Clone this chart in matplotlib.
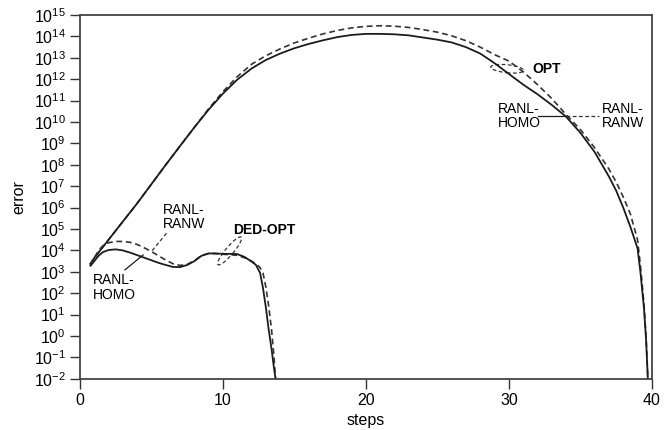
import numpy as np
import matplotlib
matplotlib.use("Agg")
from matplotlib import pyplot as plt
from matplotlib.patches import Ellipse
from matplotlib.transforms import ScaledTranslation

plt.rcParams["font.family"] = ["Liberation Sans", "DejaVu Sans"]
plt.rcParams["mathtext.fontset"] = "custom"
plt.rcParams["mathtext.rm"] = "Liberation Sans"
plt.rcParams["mathtext.it"] = "Liberation Sans:italic"
plt.rcParams["mathtext.bf"] = "Liberation Sans:bold"
plt.rcParams["axes.unicode_minus"] = False

# OPT curves (log10 of error)
opt_steps = [0.7, 1.0, 2.0, 3.0, 4.0, 5.0, 6.0, 7.0, 8.0, 9.0, 10.0, 11.0, 12.0,
             13.0, 14.0, 15.0, 16.0, 17.0, 18.0, 19.0, 20.0, 21.0, 22.0, 23.0,
             24.0, 25.0, 26.0, 27.0, 28.0, 29.0, 30.0, 31.0, 32.0, 33.0, 34.0,
             35.0, 36.0, 37.0, 37.5, 38.0, 38.5, 39.0, 39.2, 39.45, 39.6, 39.72]
opt_homo = [3.35, 3.65, 4.5, 5.35, 6.2, 7.1, 8.0, 8.88, 9.75, 10.58, 11.33,
            11.98, 12.5, 12.9, 13.2, 13.45, 13.65, 13.82, 13.97, 14.07, 14.12,
            14.12, 14.1, 14.05, 13.95, 13.85, 13.72, 13.5, 13.2, 12.75, 12.25,
            11.75, 11.3, 10.8, 10.25, 9.5, 8.6, 7.45, 6.8, 6.0, 5.1, 4.1, 3.0,
            1.3, -0.2, -2.0]
opt_ranw = [3.35, 3.65, 4.5, 5.35, 6.2, 7.1, 8.0, 8.88, 9.75, 10.62, 11.42,
            12.12, 12.7, 13.1, 13.42, 13.7, 13.92, 14.12, 14.28, 14.4, 14.47,
            14.5, 14.48, 14.42, 14.32, 14.2, 14.03, 13.8, 13.5, 13.15, 12.85,
            12.35, 11.75, 11.1, 10.35, 9.65, 8.8, 7.8, 7.2, 6.5, 5.7, 4.5, 3.3,
            1.5, -0.1, -2.0]

# DED-OPT curves
ded_steps = [0.7, 1.0, 1.3, 1.6, 2.0, 2.5, 3.0, 3.5, 4.0, 4.5, 5.0, 5.5, 6.0,
             6.5, 7.0, 7.5, 8.0, 8.5, 9.0, 9.5, 10.0, 10.5, 11.0, 11.5, 12.0,
             12.3, 12.6, 12.8, 13.0, 13.2, 13.4, 13.55, 13.68]
ded_homo = [3.25, 3.5, 3.75, 3.92, 4.02, 4.05, 4.0, 3.9, 3.78, 3.66, 3.54, 3.42,
            3.32, 3.23, 3.22, 3.32, 3.5, 3.75, 3.86, 3.86, 3.84, 3.84, 3.83,
            3.7, 3.48, 3.33, 2.95, 2.25, 1.35, 0.3, -0.6, -1.4, -2.0]
ded_ranw = [3.3, 3.65, 4.0, 4.22, 4.36, 4.42, 4.42, 4.38, 4.28, 4.12, 3.95,
            3.75, 3.55, 3.38, 3.3, 3.35, 3.52, 3.76, 3.86, 3.85, 3.82, 3.8,
            3.77, 3.66, 3.5, 3.38, 3.2, 2.95, 2.3, 1.4, 0.3, -0.8, -2.0]

x_ticks = [0, 10, 20, 30, 40]
y_decades = list(range(-2, 16))

fig = plt.figure(figsize=(6.72, 4.30), dpi=100)
ax = fig.add_axes([0.119, 0.119, 0.851, 0.846])

solid = dict(color="#1c1c1c", lw=1.3, solid_capstyle="butt")
dashed = dict(color="#333333", lw=1.2, ls=(0, (3.5, 2.2)))

ax.plot(opt_steps, 10.0 ** np.array(opt_ranw), **dashed)
ax.plot(opt_steps, 10.0 ** np.array(opt_homo), **solid)
ax.plot(ded_steps, 10.0 ** np.array(ded_ranw), **dashed)
ax.plot(ded_steps, 10.0 ** np.array(ded_homo), **solid)

ax.set_yscale("log")
ax.set_xlim(0, 40)
ax.set_ylim(1e-2, 1e15)
ax.set_xticks(x_ticks)
ax.set_yticks([10.0 ** k for k in y_decades])
ax.minorticks_off()
ax.tick_params(direction="out", length=7, width=1.0, color="#333333",
               top=False, right=False, pad=3)
ax.tick_params(axis="y", labelsize=11.5)
ax.tick_params(axis="x", labelsize=11.5)
for s in ax.spines.values():
    s.set_color("#444444")
    s.set_linewidth(1.3)
ax.set_xlabel("steps", fontsize=11.5)
ax.set_ylabel("error", fontsize=11.5, labelpad=5)

fs = 10
# upper-left annotations
ax.text(5.8, 10 ** 5.57, "RANL-\nRANW", fontsize=fs, ha="left", va="center",
        linespacing=1.05)
ax.plot([6.05, 5.0], [10 ** 4.8, 10 ** 3.95], color="#333333", lw=0.9,
        ls=(0, (3, 2)))
ax.text(0.9, 10 ** 2.28, "RANL-\nHOMO", fontsize=fs, ha="left", va="center",
        linespacing=1.05)
ax.plot([3.14, 4.42], [10 ** 3.09, 10 ** 3.79], color="#1c1c1c", lw=0.9)
ax.text(10.68, 10 ** 4.96, "DED-OPT", fontsize=fs, fontweight="bold",
        ha="left", va="center")

# right annotations
ax.text(31.62, 10 ** 12.49, "OPT", fontsize=fs, fontweight="bold",
        ha="left", va="center")
ax.text(29.25, 10 ** 10.29, "RANL-\nHOMO", fontsize=fs, ha="left",
        va="center", linespacing=1.05)
ax.plot([32.04, 34.0], [10 ** 10.29, 10 ** 10.29], color="#1c1c1c", lw=0.9)
ax.plot([34.0, 36.3], [10 ** 10.29, 10 ** 10.29], color="#333333", lw=0.9,
        ls=(0, (3, 2)))
ax.text(36.5, 10 ** 10.29, "RANL-\nRANW", fontsize=fs, ha="left",
        va="center", linespacing=1.05)

# dashed ellipses, sized in inches, placed at data points
for cx, cy, w, h, ang in [(10.47, 3.98, 0.36, 0.08, 50),
                          (29.88, 12.49, 0.33, 0.08, -6)]:
    tr = fig.dpi_scale_trans + ScaledTranslation(cx, 10 ** cy, ax.transData)
    ax.add_patch(Ellipse((0, 0), w, h, angle=ang, transform=tr, fill=False,
                         ec="#333333", lw=0.9, ls=(0, (3, 2))))

fig.savefig("out.png", dpi=100)
